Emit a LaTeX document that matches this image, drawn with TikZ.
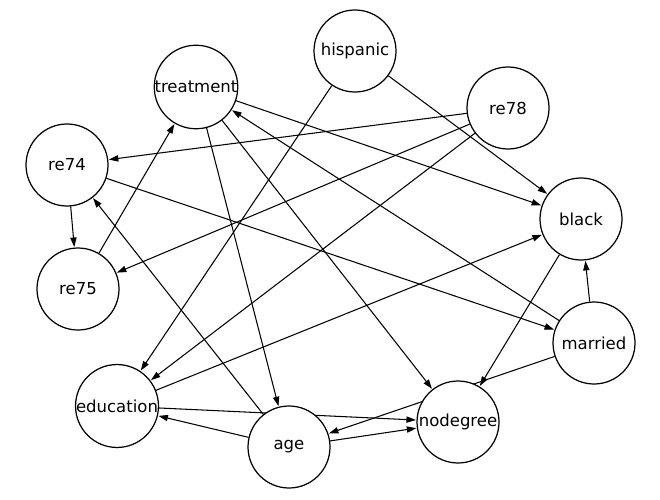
\documentclass[tikz,border=0pt]{standalone}
\usepackage{fontspec}
\setsansfont{DejaVu Sans}
\usetikzlibrary{arrows.meta, positioning, backgrounds}
\tikzset{
    every picture/.style={font=\sffamily},
    every node/.style={font=\sffamily}
}

\begin{document}
\begin{tikzpicture}[
    % Stili per i nodi
    var/.style={circle, draw=black, fill=white, line width=0.7pt, minimum size=1.64cm, inner sep=0pt, font=\sffamily\fontsize{9.4}{11}\selectfont},
    % Stili per le connessioni
    flow/.style={-{Triangle[length=1.9mm, width=1.25mm]}, line width=0.6pt, draw=black, shorten >=0.3pt}
]
\useasboundingbox (0,0) rectangle (13.2,9.98);

% === VARIABILI ===
\node[var] (hispanic) at (7.10,8.96) {hispanic};
\node[var] (treatment) at (3.92,8.24) {treatment};
\node[var] (re78) at (10.16,7.82) {re78};
\node[var] (re74) at (1.34,6.68) {re74};
\node[var] (black) at (11.62,5.60) {black};
\node[var] (re75) at (1.56,4.20) {re75};
\node[var] (married) at (11.88,3.12) {married};
\node[var] (education) at (2.34,1.86) {education};
\node[var] (nodegree) at (9.16,1.54) {nodegree};
\node[var] (age) at (5.78,1.04) {age};

% === CONNESSIONI ===
\begin{scope}[on background layer]
\draw[flow] (hispanic) -- (education);
\draw[flow] (hispanic) -- (black);
\draw[flow] (treatment) -- (black);
\draw[flow] (treatment) -- (age);
\draw[flow] (treatment) -- (nodegree);
\draw[flow] (re78) -- (re74);
\draw[flow] (re78) -- (re75);
\draw[flow] (re78) -- (education);
\draw[flow] (re74) -- (re75);
\draw[flow] (re74) -- (married);
\draw[flow] (re75) -- (treatment);
\draw[flow] (married) -- (treatment);
\draw[flow] (married) -- (black);
\draw[flow] (married) -- (age);
\draw[flow] (black) -- (nodegree);
\draw[flow] (education) -- (black);
\draw[flow] (education) -- (nodegree);
\draw[flow] (age) -- (education);
\draw[flow] (age) -- (re74);
\draw[flow] (age) -- (nodegree);
\end{scope}

\end{tikzpicture}
\end{document}
